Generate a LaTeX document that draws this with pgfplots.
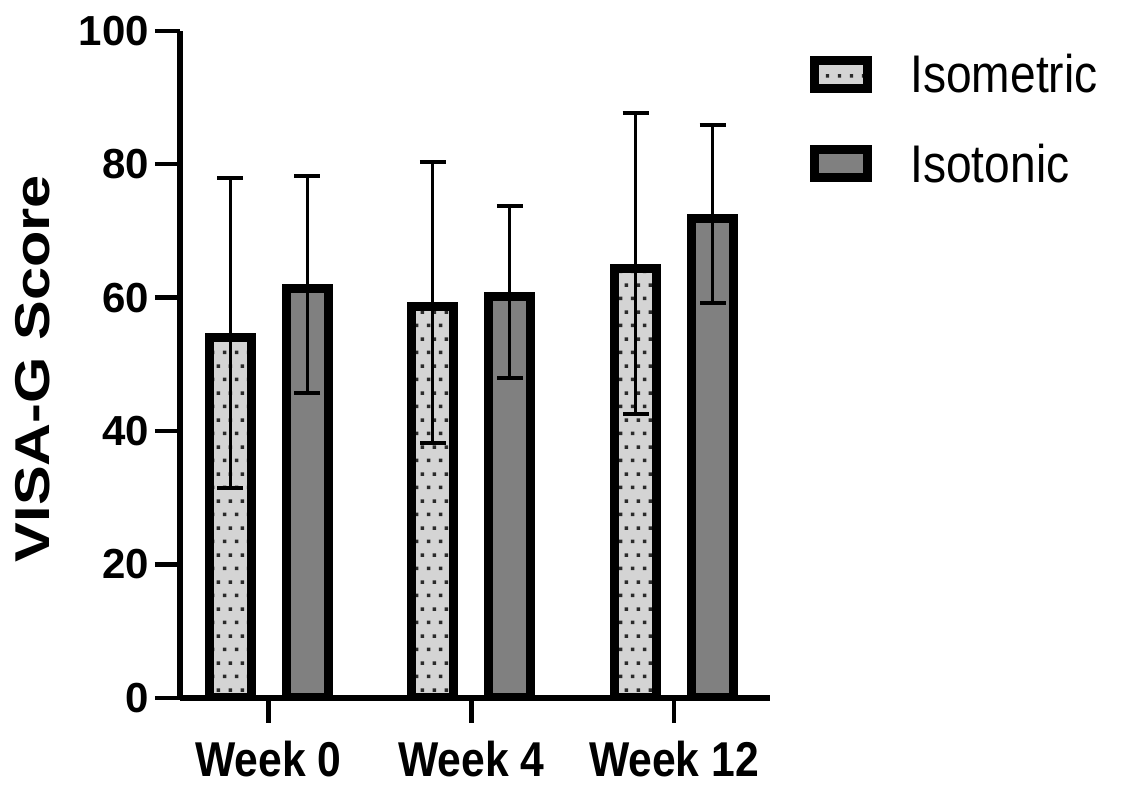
\documentclass[border=0pt]{standalone}
\usepackage{fontspec}
\setmainfont{Liberation Sans}
\newfontfamily\ytfont{Liberation Sans}
\newfontfamily\xtfont[FakeStretch=0.872]{Liberation Sans}
\newfontfamily\ylfont[FakeStretch=1.217]{Liberation Sans}
\newfontfamily\lgfont[FakeStretch=0.87]{Liberation Sans}
\usepackage{pgfplots}
\pgfplotsset{compat=1.18}
\usepackage{pgfplotstable}
\usetikzlibrary{patterns}

\definecolor{isofill}{HTML}{D4D4D4}
\definecolor{tonfill}{HTML}{808080}
\definecolor{dotgray}{HTML}{2A2A2A}

% staggered dot pattern for the isometric bars
\pgfdeclarepatternformonly{gpdots}{\pgfpointorigin}{\pgfpoint{11.7pt}{26.7pt}}{\pgfpoint{11.7pt}{26.7pt}}{%
  \pgfpathrectangle{\pgfpoint{1pt}{1pt}}{\pgfpoint{3.4pt}{3.4pt}}%
  \pgfpathrectangle{\pgfpoint{6.85pt}{14.35pt}}{\pgfpoint{3.4pt}{3.4pt}}%
  \pgfusepath{fill}}

% mean, upper and lower error (VISA-G score)
\pgfplotstableread{
x  y     ep    em
0  54.0  24.0  22.5
1  58.6  21.7  20.4
2  64.4  23.3  21.9
}\isometric
\pgfplotstableread{
x  y     ep    em
0  61.4  16.8  15.7
1  60.1  13.6  12.1
2  71.8  14.1  12.6
}\isotonic

\begin{document}
\begin{tikzpicture}
\begin{axis}[
  at={(180pt,88.2pt)}, anchor=south west,
  scale only axis, width=590pt, height=667pt,
  ybar, bar width=42pt,
  xmin=-0.4365, xmax=2.4735, ymin=0, ymax=100,
  enlargelimits=false,
  axis x line*=bottom, axis y line*=left,
  axis line style={line width=6pt, black},
  tick align=outside, major tick length=25pt,
  major tick style={line width=4.5pt, black},
  xtick={0,1,2}, xticklabels={Week 0, Week 4, Week 12},
  ytick={0,20,...,100},
  /pgf/number format/assume math mode=true,
  yticklabel style={font=\ytfont\bfseries\fontsize{42pt}{44pt}\selectfont, anchor=east, inner sep=0pt, xshift=-6pt},
  xticklabel style={font=\xtfont\bfseries\fontsize{48.9pt}{50pt}\selectfont, anchor=north, inner sep=0pt, yshift=-18pt},
  ylabel={VISA-G Score},
  ylabel style={font=\ylfont\bfseries\fontsize{48.9pt}{50pt}\selectfont, at={(axis description cs:-0.25,0.4935)}, anchor=center, inner sep=0pt},
  legend style={at={(1.0686,0.9650)}, anchor=north west, draw=none, fill=none,
    inner sep=0pt, outer sep=0pt, row sep=50pt, column sep=38pt,
    font=\lgfont\fontsize{53pt}{55pt}\selectfont,
    nodes={inner sep=0pt}, cells={anchor=west}},
  legend image code/.code={\draw[#1] (0pt,-14pt) rectangle (53pt,14pt);},
  error bars/y dir=both, error bars/y explicit,
  error bars/error bar style={line width=3pt, black},
  error bars/error mark options={rotate=90, line width=4pt, mark size=13pt, black},
]
\addplot+[bar shift=-38.5pt, draw=black, line width=9pt, fill=isofill,
  postaction={pattern=gpdots, pattern color=dotgray}]
  table[x=x, y=y, y error plus=ep, y error minus=em]{\isometric};
\addlegendentry{Isometric}
\addplot+[bar shift=38.5pt, draw=black, line width=9pt, fill=tonfill]
  table[x=x, y=y, y error plus=ep, y error minus=em]{\isotonic};
\addlegendentry{Isotonic}
\end{axis}
\pgfresetboundingbox
\useasboundingbox (0,0) rectangle (1121pt,786pt);
\end{tikzpicture}
\end{document}
